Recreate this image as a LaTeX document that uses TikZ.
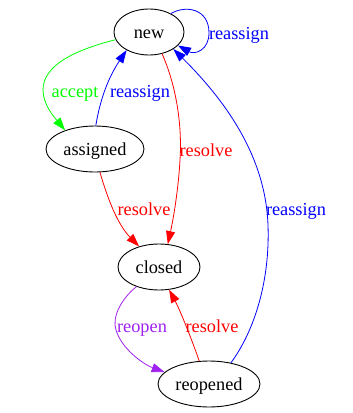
\documentclass[tikz,border=0pt]{standalone}
\usepackage{fontspec}
\setmainfont{Liberation Serif}
\usetikzlibrary{arrows.meta,shapes.geometric}
\begin{document}
\begin{tikzpicture}[x=1pt,y=-1pt,
  state/.style={ellipse, draw, line width=0.9pt, inner sep=0pt, text height=14pt, text depth=2pt, font=\fontsize{18.3}{20}\selectfont},
  edge/.style={line width=0.8pt, -{Triangle[length=13pt,width=9pt]}},
  lbl/.style={anchor=base, inner sep=0pt, font=\fontsize{18.3}{20}\selectfont}]
\useasboundingbox (0,0) rectangle (353,413);
\node[state, minimum width=70pt, minimum height=46pt] (new) at (149,32) {new};
\node[state, minimum width=98pt, minimum height=46pt] (assigned) at (95,149) {assigned};
\node[state, minimum width=82pt, minimum height=46pt] (closed) at (159,267) {closed};
\node[state, minimum width=102pt, minimum height=46pt] (reopened) at (209,384) {reopened};
% self loop
\draw[edge, blue] (new.40) .. controls (185,5) and (209,8) .. (209,33) .. controls (209,50) and (195,55) .. (new.335);
\node[lbl, blue] (l1) at (239,39) {reassign};
% new -> assigned
\draw[edge, green] (new.193) .. controls (75,50) and (43,65) .. (43,90) .. controls (43,105) and (55,118) .. (assigned.148);
\node[lbl, green] (l2) at (75,97) {accept};
% assigned -> new
\draw[edge, blue] (assigned.88) .. controls (100,100) and (108,78) .. (new.219);
\node[lbl, blue] (l3) at (140,97) {reassign};
% new -> closed
\draw[edge, red] (new.301) .. controls (178,90) and (182,130) .. (180,160) .. controls (178,195) and (172,225) .. (closed.69);
\node[lbl, red] (l4) at (206,156) {resolve};
% assigned -> closed
\draw[edge, red] (assigned.282) .. controls (108,200) and (118,225) .. (closed.134);
\node[lbl, red] (l5) at (144,215) {resolve};
% reopened -> new
\draw[edge, blue] (reopened.44) .. controls (255,330) and (270,280) .. (268,225) .. controls (266,170) and (240,115) .. (new.325);
\node[lbl, blue] (l6) at (296,215) {reassign};
% closed -> reopened
\definecolor{gvpurple}{RGB}{160,32,240}
\draw[edge, gvpurple] (closed.221) .. controls (120,300) and (112,318) .. (116,330) .. controls (122,350) and (145,365) .. (reopened.165);
\node[lbl, gvpurple] (l7) at (142,332) {reopen};
% reopened -> closed
\draw[edge, red] (reopened.113) .. controls (192,340) and (180,310) .. (closed.294);
\node[lbl, red] (l8) at (212,332) {resolve};
\end{tikzpicture}
\end{document}
